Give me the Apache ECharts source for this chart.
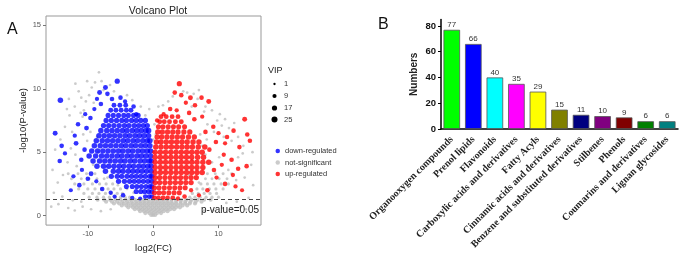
<!DOCTYPE html>
<html>
<head>
<meta charset="utf-8">
<script src="https://cdn.jsdelivr.net/npm/echarts@6/dist/echarts.min.js"></script>
<style>
  html, body { margin: 0; padding: 0; background: #fff; }
  #main { width: 685px; height: 258px; }
</style>
</head>
<body>
<div id="main"></div>
<script>
// ---- panel A: volcano plot ----
// dense parts are read row by row: [ -log10(P), VIP, [log2(FC) ...] ]
const downRows = [
  [1.5, 14, [-1.2, -0.6, -0.2]],
  [1.9, 16, [-2.6, -1.9, -1.3, -0.7, -0.2]],
  [2.3, 16, [-4.1, -3.2, -2.5, -1.8, -1.1, -0.5, -0.2]],
  [2.7, 18, [-5.3, -4.4, -3.6, -2.9, -2.2, -1.5, -0.8, -0.2]],
  [3.1, 18, [-6.4, -5.5, -4.8, -4.0, -3.3, -2.6, -1.9, -1.2, -0.5, -0.2]],
  [3.5, 20, [-7.3, -6.1, -5.3, -4.6, -3.8, -3.1, -2.4, -1.7, -1.0, -0.3]],
  [3.9, 20, [-8.6, -7.6, -6.8, -6.0, -5.2, -4.5, -3.7, -3.0, -2.2, -1.5, -0.8, -0.3]],
  [4.3, 20, [-9.2, -8.2, -7.4, -6.6, -5.8, -5.0, -4.3, -3.5, -2.8, -2.0, -1.3, -0.6, -0.3]],
  [4.7, 20, [-9.8, -8.8, -7.9, -7.1, -6.3, -5.5, -4.8, -4.0, -3.3, -2.5, -1.8, -1.1, -0.4]],
  [5.1, 20, [-9.4, -8.5, -7.7, -6.9, -6.1, -5.3, -4.6, -3.8, -3.1, -2.3, -1.6, -0.9, -0.4]],
  [5.5, 20, [-9.0, -8.1, -7.3, -6.5, -5.7, -4.9, -4.2, -3.4, -2.7, -1.9, -1.2, -0.5]],
  [5.9, 20, [-8.7, -7.8, -7.0, -6.2, -5.4, -4.6, -3.9, -3.1, -2.4, -1.6, -0.9, -0.5]],
  [6.3, 20, [-8.3, -7.5, -6.7, -5.9, -5.1, -4.3, -3.6, -2.8, -2.1, -1.4, -0.7]],
  [6.7, 20, [-8.0, -7.1, -6.3, -5.5, -4.7, -4.0, -3.2, -2.5, -1.8, -1.1, -0.7]],
  [7.1, 18, [-7.6, -6.8, -6.0, -5.2, -4.4, -3.7, -2.9, -2.2, -1.5, -0.9]],
  [7.5, 18, [-7.2, -6.4, -5.6, -4.8, -4.1, -3.3, -2.6, -1.9, -1.2]],
  [7.9, 16, [-6.9, -6.1, -5.3, -4.5, -3.8, -3.0, -2.3]],
  [8.3, 15, [-6.5, -5.7, -4.9, -4.1, -3.4]],
  [8.7, 14, [-6.0, -5.1, -4.2]]
];
// scattered points: [log2(FC), -log10(P), VIP]
const downExtra = [
  [-14.2, 9.1, 20], [-15.0, 6.5, 15], [-14.0, 5.5, 12], [-13.5, 4.9, 10], [-14.3, 4.3, 12],
  [-12.0, 6.3, 10], [-11.5, 7.2, 12], [-11.8, 5.7, 14], [-11.0, 4.4, 12], [-10.9, 3.6, 10],
  [-12.2, 3.1, 10], [-11.3, 2.4, 12], [-10.0, 2.9, 12], [-9.5, 3.3, 14], [-8.7, 2.7, 9],
  [-7.8, 2.1, 12], [-6.5, 1.8, 10], [-5.9, 1.5, 9], [-4.6, 1.6, 12], [-8.2, 9.7, 15],
  [-7.3, 10.1, 15], [-7.0, 9.6, 12], [-5.5, 10.6, 17], [-6.3, 9.2, 12], [-5.0, 9.3, 12],
  [-4.3, 9.0, 10], [-3.0, 8.6, 12], [-2.6, 8.0, 10], [-9.6, 7.7, 12], [-10.2, 6.9, 14],
  [-10.5, 5.2, 12], [-9.0, 8.4, 10], [-8.0, 8.8, 12], [-3.2, 1.4, 10], [-2.0, 1.35, 9],
  [-12.6, 2.0, 9], [-10.4, 8.0, 10], [-8.6, 9.2, 10]
];
const upRows = [
  [1.4, 14, [0.2, 0.8, 1.5, 2.2, 3.0]],
  [1.8, 16, [0.2, 0.9, 1.6, 2.4, 3.2, 4.0]],
  [2.2, 16, [0.2, 0.9, 1.7, 2.5, 3.3, 4.1, 4.9]],
  [2.6, 18, [0.3, 1.0, 1.8, 2.6, 3.4, 4.2, 5.0, 5.8]],
  [3.0, 18, [0.3, 1.0, 1.8, 2.6, 3.4, 4.2, 5.0, 5.8, 6.6]],
  [3.4, 20, [0.3, 1.1, 1.9, 2.7, 3.5, 4.3, 5.1, 5.9, 6.7, 7.5]],
  [3.8, 20, [0.3, 1.1, 1.9, 2.7, 3.5, 4.3, 5.1, 5.9, 6.7, 7.6]],
  [4.2, 20, [0.3, 1.1, 1.9, 2.7, 3.5, 4.3, 5.1, 5.9, 6.7, 7.6, 8.5]],
  [4.6, 20, [0.3, 1.1, 1.9, 2.7, 3.5, 4.3, 5.1, 5.9, 6.8, 7.7]],
  [5.0, 20, [0.3, 1.1, 1.9, 2.7, 3.5, 4.3, 5.1, 5.9, 6.7, 7.5]],
  [5.4, 20, [0.4, 1.2, 2.0, 2.8, 3.6, 4.4, 5.2, 6.0, 6.9, 7.9]],
  [5.8, 20, [0.5, 1.2, 2.0, 2.8, 3.6, 4.4, 5.2, 6.1, 7.0]],
  [6.2, 18, [0.6, 1.3, 2.1, 2.9, 3.7, 4.5, 5.4, 6.3]],
  [6.6, 18, [0.7, 1.4, 2.2, 3.0, 3.8, 4.7, 5.6]],
  [7.0, 16, [0.8, 1.5, 2.3, 3.1, 3.9, 4.8]],
  [7.4, 15, [1.0, 1.7, 2.5, 3.4, 4.3]],
  [7.8, 14, [1.2, 2.0, 2.9, 3.8]]
];
const upExtra = [
  [4.0, 10.4, 17], [3.3, 9.7, 12], [4.3, 9.5, 12], [5.7, 9.3, 15], [7.4, 9.3, 12],
  [8.5, 9.0, 15], [5.0, 8.9, 10], [6.4, 8.7, 12], [2.6, 8.4, 12], [1.6, 8.0, 10],
  [3.6, 8.3, 10], [5.5, 8.1, 12], [7.5, 7.8, 10], [9.2, 7.0, 12], [10.0, 6.5, 10],
  [11.3, 6.2, 12], [12.3, 6.7, 12], [14.0, 7.6, 15], [14.4, 6.4, 12], [14.8, 5.9, 12],
  [13.2, 5.4, 12], [11.0, 5.7, 10], [12.0, 4.4, 12], [10.5, 4.0, 10], [9.3, 3.6, 12],
  [12.2, 3.2, 10], [13.0, 3.7, 12], [14.3, 3.9, 12], [11.0, 2.5, 12], [12.6, 2.3, 10],
  [13.6, 2.0, 9], [8.3, 2.0, 12], [7.0, 1.6, 10], [9.7, 3.0, 10], [8.6, 5.2, 12],
  [9.6, 5.8, 12], [6.3, 7.6, 12], [0.6, 7.5, 10], [4.8, 1.5, 12], [5.8, 2.0, 10],
  [3.8, 1.35, 10], [8.0, 6.6, 12], [10.8, 4.8, 10]
];
const nsRows = [
  [0.05, 9, [-0.3, 0, 0.3]],
  [0.2, 9, [-1.2, -0.6, 0, 0.6, 1.2]],
  [0.35, 9, [-2.0, -1.4, -0.8, -0.2, 0.4, 1.0, 1.6, 2.2]],
  [0.5, 9, [-2.8, -2.2, -1.6, -1.0, -0.4, 0.2, 0.8, 1.4, 2.0, 2.6, 3.2]],
  [0.65, 9, [-3.8, -3.1, -2.5, -1.9, -1.3, -0.7, -0.1, 0.5, 1.1, 1.7, 2.3, 2.9, 3.5, 4.1]],
  [0.8, 9, [-4.8, -4.1, -3.4, -2.8, -2.2, -1.6, -1.0, -0.4, 0.2, 0.8, 1.4, 2.0, 2.6, 3.2, 3.8, 4.5, 5.2]],
  [0.95, 9, [-6.0, -5.2, -4.5, -3.8, -3.1, -2.5, -1.9, -1.3, -0.7, -0.1, 0.5, 1.1, 1.7, 2.3, 2.9, 3.5, 4.2, 4.9, 5.6, 6.4]],
  [1.1, 9, [-7.2, -6.3, -5.5, -4.7, -4.0, -3.3, -2.6, -2.0, -1.4, -0.8, -0.2, 0.4, 1.0, 1.6, 2.2, 2.8, 3.5, 4.2, 4.9, 5.7, 6.5, 7.4]],
  [1.25, 8, [-8.5, -7.5, -6.6, -5.8, -5.0, -4.2, -3.5, -2.8, -2.1, -1.4, -0.7, 0, 0.7, 1.4, 2.1, 2.8, 3.5, 4.3, 5.1, 5.9, 6.8, 7.8, 8.8]],
  [1.45, 4, [-9.8, -8.6, -7.6, -6.7, -5.8, -5.0, -4.3, -3.6, 5.6, 6.4, 7.2, 8.1, 9.0, 10.0]],
  [1.75, 4, [-10.6, -9.3, -8.3, -7.3, -6.4, -5.5, -4.7, 6.0, 6.9, 7.8, 8.7, 9.7]],
  [2.1, 4, [-11.4, -10.0, -8.9, -7.9, -6.9, -6.0, -5.0, 6.7, 7.6, 8.6, 9.6, 10.7]],
  [2.5, 4, [-12.0, -10.6, -9.3, -8.2, -7.2, -6.2, 7.3, 8.3, 9.3, 10.4, 11.5]],
  [2.9, 3, [-12.5, -11.0, -9.8, -8.6, -7.5, 8.0, 9.0, 10.1, 11.3]],
  [3.3, 3, [-13.0, -11.5, -10.2, -8.9, 8.3, 9.5, 10.7, 12.0]]
];
const nsExtra = [
  [-8.3, 11.3, 2], [-8.9, 10.5, 2], [-10.1, 10.6, 2], [-9.4, 10.1, 2], [-7.6, 9.9, 2],
  [-6.6, 10.3, 2], [-6.0, 9.8, 2], [-4.0, 9.5, 2], [-3.2, 9.1, 2], [-9.8, 9.5, 2],
  [-11.0, 9.3, 2], [-12.0, 8.6, 2], [-10.6, 8.3, 2], [-12.8, 7.9, 2], [-13.5, 7.0, 2],
  [-14.2, 6.0, 2], [-15.0, 5.2, 2], [-15.4, 3.6, 2], [-15.2, 1.8, 2], [-14.5, 0.9, 2],
  [-13.0, 0.6, 2], [-12.0, 0.4, 2], [-10.8, 0.7, 2], [-9.5, 0.5, 2], [-8.0, 0.35, 2],
  [-6.5, 0.5, 2], [-12.6, 5.3, 2], [-13.1, 4.2, 2], [-11.9, 4.8, 2], [-12.4, 6.6, 2],
  [-10.8, 7.8, 2], [-8.6, 6.2, 2], [-1.9, 8.6, 2], [-1.2, 7.9, 2], [-0.6, 8.4, 2],
  [0.2, 7.2, 2], [0.4, 6.4, 2], [0.0, 6.0, 2], [0.1, 5.0, 2], [0.8, 8.6, 2],
  [1.5, 8.7, 2], [2.3, 9.0, 2], [3.0, 9.4, 2], [4.6, 9.8, 2], [5.2, 9.7, 2],
  [6.2, 9.6, 2], [7.0, 9.9, 2], [6.8, 9.2, 2], [8.0, 8.6, 2], [9.0, 8.3, 2],
  [8.3, 7.2, 2], [9.8, 7.5, 2], [10.5, 7.1, 2], [11.6, 6.9, 2], [10.8, 6.2, 2],
  [12.0, 5.9, 2], [13.0, 6.2, 2], [13.8, 5.5, 2], [15.2, 5.0, 2], [15.0, 4.0, 2],
  [14.0, 3.0, 2], [15.3, 2.4, 2], [14.6, 1.4, 2], [13.4, 0.7, 2], [12.0, 0.5, 2],
  [10.6, 0.6, 2], [9.2, 0.4, 2], [7.8, 0.4, 2], [13.0, 4.6, 2], [11.5, 3.6, 2],
  [10.1, 4.6, 2], [9.0, 4.2, 2], [8.0, 4.8, 2], [7.5, 5.5, 2], [7.2, 6.4, 2],
  [8.2, 6.0, 2], [9.3, 6.6, 2], [6.0, 4.4, 2], [5.5, 3.2, 2], [7.0, 2.6, 2],
  [-8.4, 5.0, 2], [-7.0, 3.0, 2], [-9.2, 4.0, 2], [-10.1, 5.9, 2], [-5.4, 2.4, 2],
  [-6.6, 4.4, 2], [-4.0, 2.1, 2], [-3.0, 1.8, 2], [-11.9, 10.4, 2], [-13.2, 8.4, 2],
  [-11.4, 9.8, 2], [-10.3, 9.0, 2], [-9.1, 8.9, 2], [-7.9, 10.6, 2], [-12.9, 9.2, 2],
  [-11.1, 8.1, 2], [-9.6, 6.6, 2], [-10.7, 6.4, 2], [-11.7, 3.9, 2], [-13.8, 3.2, 2],
  [-14.6, 2.6, 2], [-13.9, 1.5, 2], [-12.3, 1.2, 2], [-11.0, 1.1, 2], [-15.6, 0.7, 2],
  [12.8, 1.1, 2], [14.2, 0.5, 2], [11.2, 1.0, 2], [12.7, 2.8, 2], [13.7, 4.9, 2],
  [11.0, 7.6, 2], [12.4, 7.3, 2], [10.2, 8.0, 2], [7.8, 8.2, 2], [5.9, 8.6, 2]
];
const vipLevels = [1, 9, 17, 25];

// ---- panel B: compound classes ----
const classNames = [
  'Organooxygen compounds', 'Prenol lipids', 'Flavonoids', 'Carboxylic acids and derivatives',
  'Fatty Acyls', 'Cinnamic acids and derivatives', 'Benzene and substituted derivatives',
  'Stilbenes', 'Phenols', 'Coumarins and derivatives', 'Lignan glycosides'
];
const classCounts = [77, 66, 40, 35, 29, 15, 11, 10, 9, 6, 6];
const classColors = ['#00ff00', '#0000ff', '#00ffff', '#ff00ff', '#ffff00', '#808000',
  '#000080', '#800080', '#800000', '#008000', '#008080'];

const fcTicks = [-10, 0, 10];
const pTicks = [0, 5, 10, 15];

const expand = (rows, extra) =>
  rows.flatMap(([y, vip, xs]) => xs.map((x) => [x, y, vip])).concat(extra);

const vipSize = (vip) => 1.4 + 0.92 * Math.sqrt(vip);

const sans = 'Liberation Sans, Arial, sans-serif';
const serif = 'Liberation Serif, Times New Roman, serif';

const chart = echarts.init(document.getElementById('main'), null, { renderer: 'canvas' });

// size key for VIP
const vipLegend = [{
  type: 'text', left: 268, top: 66,
  style: { text: 'VIP', font: '9px ' + sans, fill: '#222' }
}];
const vipY = [84, 96, 108, 119.5];
vipLevels.forEach((v, i) => {
  vipLegend.push({
    type: 'circle', shape: { cx: 274.5, cy: vipY[i], r: vipSize(v) / 2 },
    style: { fill: '#000' }
  });
  vipLegend.push({
    type: 'text', x: 284, y: vipY[i],
    style: { text: String(v), font: '7.5px ' + sans, fill: '#333', verticalAlign: 'middle' }
  });
});

const option = {
  animation: false,
  title: [
    { text: 'Volcano Plot', left: 153, top: 1, textAlign: 'center',
      textStyle: { fontFamily: sans, fontSize: 10.5, fontWeight: 'normal', color: '#222' } },
    { text: 'A', left: 2, top: 17,
      textStyle: { fontFamily: sans, fontSize: 16, fontWeight: 'normal', color: '#111' } },
    { text: 'B', left: 373, top: 12,
      textStyle: { fontFamily: sans, fontSize: 16, fontWeight: 'normal', color: '#111' } }
  ],
  legend: {
    orient: 'vertical', left: 270.5, top: 141.5,
    icon: 'circle', itemWidth: 4.5, itemHeight: 4.5, itemGap: 2.5,
    data: ['down-regulated', 'not-significant', 'up-regulated'],
    textStyle: { fontFamily: sans, fontSize: 7.5, color: '#333', lineHeight: 9 },
    selectedMode: false
  },
  graphic: vipLegend,
  grid: [
    { left: 46, top: 16, width: 215, height: 214, show: true,
      borderColor: '#999', borderWidth: 1, backgroundColor: '#fff' },
    { left: 441, top: 19.5, right: 7, height: 109.5 }
  ],
  xAxis: [
    {
      gridIndex: 0, type: 'value', min: -16.4, max: 16.5,
      name: 'log2(FC)', nameLocation: 'middle', nameGap: 10,
      nameTextStyle: { fontFamily: sans, fontSize: 9.5, color: '#222' },
      axisLine: { show: false, onZero: false },
      axisTick: { show: true, length: 3, customValues: fcTicks, lineStyle: { color: '#777' } },
      axisLabel: { fontFamily: sans, fontSize: 7.5, color: '#555', margin: 5, customValues: fcTicks },
      splitLine: { show: false }
    },
    {
      gridIndex: 1, type: 'category', data: classNames,
      axisLine: { lineStyle: { color: '#000', width: 1.5 } },
      axisTick: { alignWithLabel: true, length: 3, lineStyle: { color: '#000' } },
      axisLabel: { interval: 0, rotate: 45, margin: 9, fontFamily: serif, fontWeight: 'bold',
        fontSize: 10, color: '#222' }
    }
  ],
  yAxis: [
    {
      gridIndex: 0, type: 'value', min: -0.75, max: 15.74,
      name: '-log10(P-value)', nameLocation: 'middle', nameGap: 12,
      nameTextStyle: { fontFamily: sans, fontSize: 9.5, color: '#222' },
      axisLine: { show: false, onZero: false },
      axisTick: { show: true, length: 3, customValues: pTicks, lineStyle: { color: '#777' } },
      axisLabel: { fontFamily: sans, fontSize: 7.5, color: '#555', margin: 5, customValues: pTicks },
      splitLine: { show: false }
    },
    {
      gridIndex: 1, type: 'value', min: 0, max: 85, interval: 20,
      name: 'Numbers', nameLocation: 'middle', nameGap: 22,
      nameTextStyle: { fontFamily: sans, fontSize: 10, fontWeight: 'bold', color: '#222' },
      axisLine: { show: true, lineStyle: { color: '#000', width: 1.5 } },
      axisTick: { show: true, length: 3, lineStyle: { color: '#000' } },
      axisLabel: { fontFamily: sans, fontSize: 9.5, fontWeight: 'bold', color: '#111', margin: 5,
        showMaxLabel: false },
      splitLine: { show: false }
    }
  ],
  series: [
    {
      name: 'not-significant', type: 'scatter', xAxisIndex: 0, yAxisIndex: 0,
      data: expand(nsRows, nsExtra),
      symbolSize: (v) => vipSize(v[2]),
      itemStyle: { color: '#bebebe' },
      markLine: {
        silent: true, symbol: 'none',
        lineStyle: { type: [4, 3], color: '#444', width: 1 },
        label: { position: 'insideEndBottom', formatter: 'p-value=0.05',
          fontFamily: sans, fontSize: 10, color: '#222', distance: [2, 6] },
        data: [{ yAxis: 1.3 }]
      }
    },
    {
      name: 'down-regulated', type: 'scatter', xAxisIndex: 0, yAxisIndex: 0,
      data: expand(downRows, downExtra),
      symbolSize: (v) => vipSize(v[2]),
      itemStyle: { color: '#0000ff' }
    },
    {
      name: 'up-regulated', type: 'scatter', xAxisIndex: 0, yAxisIndex: 0,
      data: expand(upRows, upExtra),
      symbolSize: (v) => vipSize(v[2]),
      itemStyle: { color: '#ff0000' }
    },
    {
      name: 'Numbers', type: 'bar', xAxisIndex: 1, yAxisIndex: 1,
      data: classCounts,
      barCategoryGap: '23%',
      itemStyle: { color: (p) => classColors[p.dataIndex], borderColor: '#555', borderWidth: 0.8 },
      label: { show: true, position: 'top', distance: 1, fontFamily: sans, fontSize: 8, color: '#333' }
    }
  ]
};

chart.setOption(option);
</script>
</body>
</html>
